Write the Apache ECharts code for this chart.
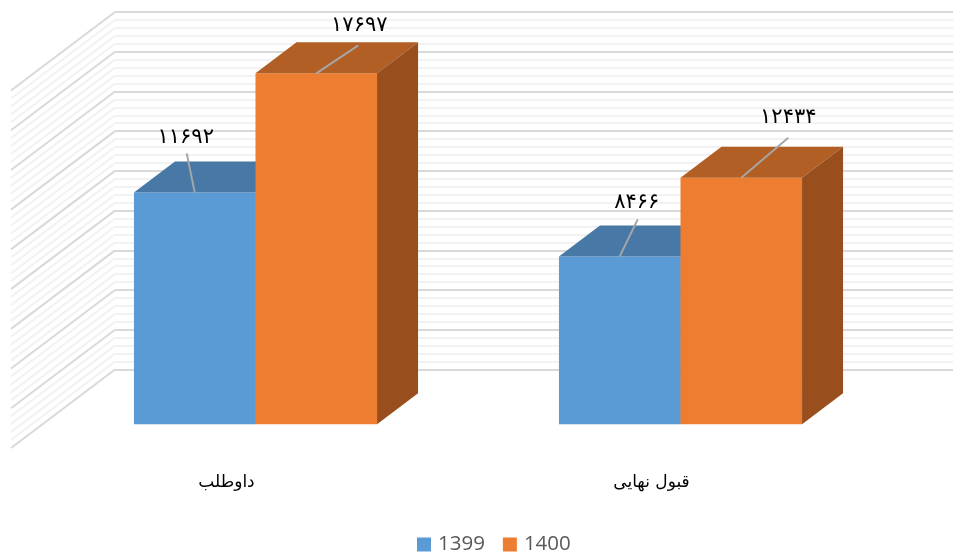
<!DOCTYPE html>
<html><head><meta charset="utf-8">
<style>html,body{margin:0;padding:0;background:#fff}#c{width:953px;height:553px}</style>
<script src="https://cdn.jsdelivr.net/npm/echarts@6/dist/echarts.min.js"></script>
</head><body><div id="c"></div>
<script>
var categories = ['داوطلب', 'قبول نهایی'];
var values1399 = [11692, 8466];
var values1400 = [17697, 12434];
var labels1399 = ['۱۱۶۹۲', '۸۴۶۶'];
var labels1400 = ['۱۷۶۹۷', '۱۲۴۳۴'];
var wallTicks = [0,400,800,1200,1600,2000,2400,2800,3200,3600,4000,4400,4800,5200,5600,6000,6400,6800,7200,7600,8000,8400,8800,9200,9600,10000,10400,10800,11200,11600,12000,12400,12800,13200,13600,14000,14400,14800,15200,15600,16000,16400,16800,17200,17600,18000];

var DEPTH_X = 41, DEPTH_Y = 31, WALL_X = 104, WALL_Y = 78.5, BAR_FRAC = 0.286;
var leaders = {
  '1399': [[-8,-39,-9,-55],[18,-37,17,-54]],
  '1400': [[42,-28,43,-48],[47,-40,47,-60]]
};
function bar(seriesName, offsetSign, front, top, side, labels) {
  return function (params, api) {
    var i = api.value(0), v = api.value(1);
    var t = api.coord([i, v]), b = api.coord([i, 0]);
    var w = api.size([1, 0])[0] * BAR_FRAC;
    var x0 = offsetSign < 0 ? t[0] - w : t[0], x1 = x0 + w;
    var y0 = t[1], y1 = b[1];
    var L = leaders[seriesName][i];
    var cx = (x0 + x1) / 2;
    return { type: 'group', children: [
      { type: 'polygon', shape: { points: [[x0,y0],[x1,y0],[x1,y1],[x0,y1]] }, style: { fill: front } },
      { type: 'polygon', shape: { points: [[x0,y0],[x1,y0],[x1+DEPTH_X,y0-DEPTH_Y],[x0+DEPTH_X,y0-DEPTH_Y]] }, style: { fill: top } },
      { type: 'polygon', shape: { points: [[x1,y0],[x1+DEPTH_X,y0-DEPTH_Y],[x1+DEPTH_X,y1-DEPTH_Y],[x1,y1]] }, style: { fill: side } },
      { type: 'line', shape: { x1: cx, y1: y0, x2: cx + L[0], y2: y0 + L[1] }, style: { stroke: '#a6a6a6', lineWidth: 2 }, z2: 10 },
      { type: 'text', x: cx + L[2], y: y0 + L[3], style: { text: labels[i], fill: '#000', font: '21px "DejaVu Sans"', align: 'center', verticalAlign: 'middle' }, z2: 11 }
    ]};
  };
}
function wall(params, api) {
  var v = api.value(0), p = api.coord([0, v]);
  return { type: 'line', shape: { x1: p[0], y1: p[1], x2: p[0] - WALL_X, y2: p[1] + WALL_Y },
    style: { stroke: v % 2000 === 0 ? '#d9d9d9' : '#f2f2f2', lineWidth: 2 } };
}
var chart = echarts.init(document.getElementById('c'), null, { renderer: 'canvas' });
chart.setOption({
  animation: false,
  backgroundColor: '#fff',
  legend: {
    data: ['1399', '1400'], left: 417, top: 534, padding: 0, icon: 'rect', itemWidth: 14, itemHeight: 14, itemGap: 18,
    textStyle: { color: '#595959', fontFamily: 'Open Sans', fontSize: 20.5, padding: [0, 0, 0, 2] }, selectedMode: false
  },
  grid: [
    { left: 115, right: 0, top: 12, height: 357.5 },
    { left: 43, width: 850, top: 67.3, height: 357 }
  ],
  xAxis: [
    { gridIndex: 0, type: 'value', min: 0, max: 1, show: false },
    { gridIndex: 1, type: 'category', data: categories,
      axisLine: { show: false }, axisTick: { show: false },
      axisLabel: { margin: 50, padding: [0, 58, 0, 0], color: '#000', fontFamily: 'DejaVu Sans', fontSize: 17 } }
  ],
  yAxis: [
    { gridIndex: 0, type: 'value', min: 0, max: 18000, interval: 2000,
      axisLine: { show: false }, axisTick: { show: false }, axisLabel: { show: false },
      splitLine: { show: true, lineStyle: { color: '#d9d9d9', width: 2 } },
      minorTick: { show: false, splitNumber: 5 },
      minorSplitLine: { show: true, lineStyle: { color: '#f2f2f2', width: 2 } } },
    { gridIndex: 1, type: 'value', min: 0, max: 18000, show: false }
  ],
  series: [
    { name: 'wall', type: 'custom', xAxisIndex: 0, yAxisIndex: 0, silent: true, z: 1,
      data: wallTicks.map(function (t) { return [t]; }), encode: { y: 0 }, renderItem: wall },
    { name: '1399', type: 'custom', xAxisIndex: 1, yAxisIndex: 1, z: 3, itemStyle: { color: '#5B9BD5' },
      data: values1399.map(function (v, i) { return [i, v]; }), encode: { x: 0, y: 1 },
      renderItem: bar('1399', -1, '#5B9BD5', '#4878A6', '#3F6A92', labels1399) },
    { name: '1400', type: 'custom', xAxisIndex: 1, yAxisIndex: 1, z: 4, itemStyle: { color: '#ED7D31' },
      data: values1400.map(function (v, i) { return [i, v]; }), encode: { x: 0, y: 1 },
      renderItem: bar('1400', 1, '#ED7D31', '#B15F24', '#984F1D', labels1400) }
  ]
});
</script></body></html>
